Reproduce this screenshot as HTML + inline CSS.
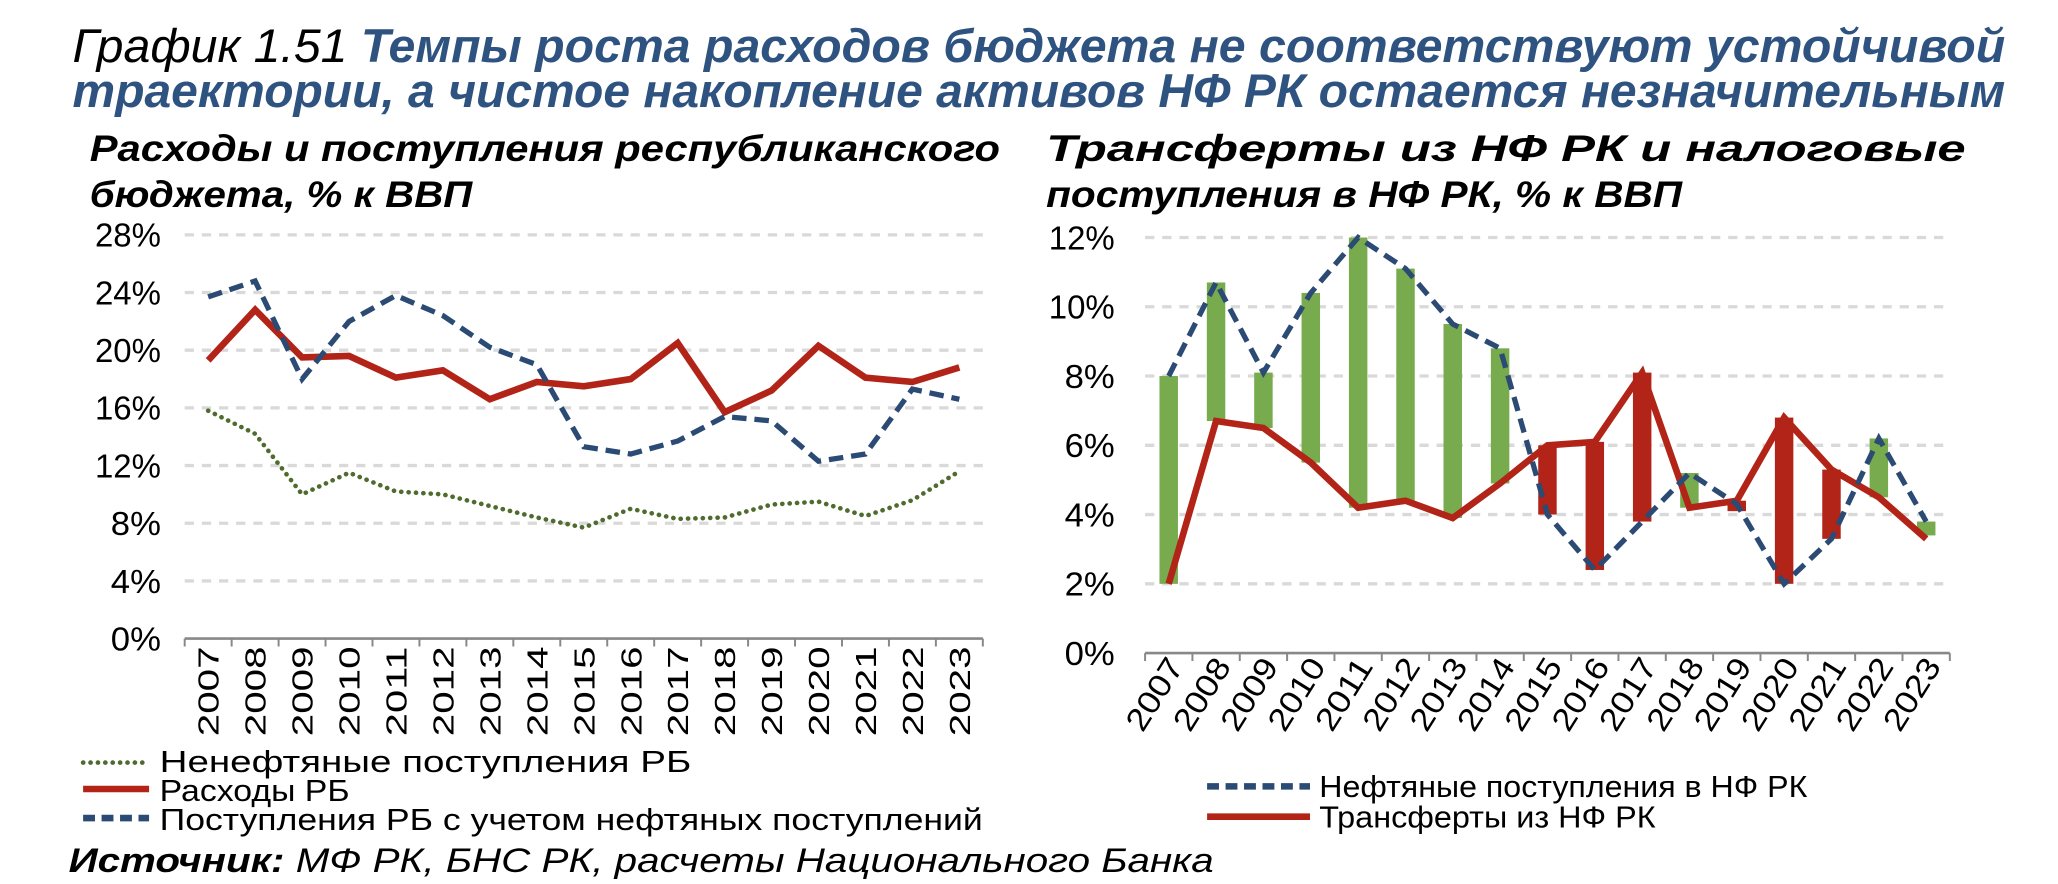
<!DOCTYPE html>
<html><head><meta charset="utf-8"><style>
html,body{margin:0;padding:0;background:#fff;}
svg{display:block;}
text{font-family:"Liberation Sans",sans-serif;}
</style></head><body>
<svg id="s" width="2058" height="884" viewBox="0 0 1560 670" preserveAspectRatio="none" xmlns="http://www.w3.org/2000/svg">
<rect width="1560" height="670" fill="#fff"/>
<text x="55" y="47" font-size="36" font-style="italic" textLength="1465" lengthAdjust="spacingAndGlyphs"><tspan fill="#000">График 1.51 </tspan><tspan fill="#2F5380" font-weight="bold">Темпы роста расходов бюджета не соответствуют устойчивой</tspan></text>
<text x="55" y="81" font-size="36" font-style="italic" font-weight="bold" fill="#2F5380" textLength="1465" lengthAdjust="spacingAndGlyphs">траектории, а чистое накопление активов НФ РК остается незначительным</text>
<text x="68" y="122" font-size="28" font-style="italic" font-weight="bold" textLength="690" lengthAdjust="spacingAndGlyphs">Расходы и поступления республиканского</text>
<text x="68" y="157" font-size="28" font-style="italic" font-weight="bold" textLength="290" lengthAdjust="spacingAndGlyphs">бюджета, % к ВВП</text>
<text x="793" y="122" font-size="28" font-style="italic" font-weight="bold" textLength="697" lengthAdjust="spacingAndGlyphs">Трансферты из НФ РК и налоговые</text>
<text x="793" y="157" font-size="28" font-style="italic" font-weight="bold" textLength="482" lengthAdjust="spacingAndGlyphs">поступления в НФ РК, % к ВВП</text>
<text x="52" y="661" font-size="26" font-style="italic" textLength="868" lengthAdjust="spacingAndGlyphs"><tspan font-weight="bold">Источник:</tspan> МФ РК, БНС РК, расчеты Национального Банка</text>
<g id="g"></g>
</svg>
<script>
var g=document.getElementById('g'),h='';
function L(x1,y1,x2,y2,st){h+='<line x1="'+x1+'" y1="'+y1+'" x2="'+x2+'" y2="'+y2+'" '+st+'/>';}
function P(pts,st){h+='<polyline fill="none" points="'+pts.map(function(p){return p[0].toFixed(1)+','+p[1].toFixed(1)}).join(' ')+'" '+st+'/>';}
function T(x,y,s,st){h+='<text x="'+x+'" y="'+y+'" '+st+'>'+s+'</text>';}
var grid='stroke="#D9D9D9" stroke-width="2.5" stroke-dasharray="7,6"';
// LEFT
var lx0=140,lx1=745,ly0=484,lk=306/28,lw=(lx1-lx0)/17;
for(var v=4;v<=28;v+=4)L(lx0,ly0-v*lk,lx1,ly0-v*lk,grid);
for(var v=0;v<=28;v+=4)T(122,ly0-v*lk+9,v+'%','font-size="25" text-anchor="end" textLength="'+(v<10?38:50)+'" lengthAdjust="spacingAndGlyphs"');
L(lx0,ly0,lx1,ly0,'stroke="#888" stroke-width="2"');
for(var i=0;i<=17;i++)L(lx0+i*lw,ly0,lx0+i*lw,ly0+6,'stroke="#888" stroke-width="1.5"');
for(var i=0;i<17;i++){var cx=lx0+lw*(i+.5)+8;h+='<text transform="translate('+cx+',490) rotate(-90)" font-size="22" text-anchor="end" textLength="68" lengthAdjust="spacingAndGlyphs">'+(2007+i)+'</text>';}
var red=[19.3,22.8,19.5,19.6,18.1,18.6,16.6,17.8,17.5,18.0,20.5,15.7,17.2,20.3,18.1,17.8,18.8];
var blu=[23.7,24.8,18.0,22.0,23.8,22.4,20.2,19.0,13.3,12.8,13.7,15.4,15.1,12.3,12.8,17.3,16.6];
var grn=[15.8,14.2,10.0,11.5,10.2,10.0,9.2,8.4,7.7,9.0,8.3,8.4,9.3,9.5,8.5,9.6,11.6];
function pts(a,x0,w,y0,k){return a.map(function(v,i){return [x0+w*(i+.5),y0-v*k]});}
P(pts(grn,lx0,lw,ly0,lk),'stroke="#4F6B2E" stroke-width="3.5" stroke-dasharray="0.1,5.5" stroke-linecap="round"');
P(pts(red,lx0,lw,ly0,lk),'stroke="#B22418" stroke-width="5"');
P(pts(blu,lx0,lw,ly0,lk),'stroke="#2B4A74" stroke-width="4" stroke-dasharray="11,6"');
L(63,578,113,578,'stroke="#4F6B2E" stroke-width="3.5" stroke-dasharray="0.1,5.5" stroke-linecap="round"');
L(63,598,113,598,'stroke="#B22418" stroke-width="5"');
L(63,620,113,620,'stroke="#2B4A74" stroke-width="5" stroke-dasharray="9,5"');
T(121,585,'Ненефтяные поступления РБ','font-size="23" textLength="403" lengthAdjust="spacingAndGlyphs"');
T(121,607,'Расходы РБ','font-size="23" textLength="144" lengthAdjust="spacingAndGlyphs"');
T(121,629,'Поступления РБ с учетом нефтяных поступлений','font-size="23" textLength="624" lengthAdjust="spacingAndGlyphs"');
// RIGHT
var rx0=868,rx1=1478,ry0=495,rk=315/12,rw=(rx1-rx0)/17;
for(var v=2;v<=12;v+=2)L(rx0,ry0-v*rk,rx1,ry0-v*rk,grid);
for(var v=0;v<=12;v+=2)T(845,ry0-v*rk+9,v+'%','font-size="25" text-anchor="end" textLength="'+(v<10?38:50)+'" lengthAdjust="spacingAndGlyphs"');
var oil=[8.0,10.7,8.1,10.4,12.0,11.1,9.5,8.8,4.0,2.4,3.8,5.2,4.3,2.0,3.3,6.2,3.8];
var tr=[2.0,6.7,6.5,5.5,4.2,4.4,3.9,4.9,6.0,6.1,8.1,4.2,4.4,6.8,5.3,4.5,3.3];
for(var i=0;i<17;i++){var a=oil[i],b=tr[i],cx=rx0+rw*(i+.5),hi=Math.max(a,b),lo=Math.min(a,b);if(i==16){hi=3.8;lo=3.4;}if(i==12){hi=4.4;lo=4.1;}
h+='<rect x="'+(cx-7).toFixed(1)+'" y="'+(ry0-hi*rk).toFixed(1)+'" width="14" height="'+((hi-lo)*rk).toFixed(1)+'" fill="'+(a>=b?'#77AB4E':'#B22418')+'"/>';}
P(pts(tr,rx0,rw,ry0,rk),'stroke="#B22418" stroke-width="5"');
P(pts(oil,rx0,rw,ry0,rk),'stroke="#2B4A74" stroke-width="4" stroke-dasharray="11,6"');
L(rx0,ry0,rx1,ry0,'stroke="#888" stroke-width="2"');
for(var i=0;i<=17;i++)L(rx0+i*rw,ry0,rx0+i*rw,ry0+6,'stroke="#888" stroke-width="1.5"');
for(var i=0;i<17;i++){var cx=rx0+rw*(i+.5)+12;h+='<text transform="translate('+cx+',505) rotate(-58)" font-size="24" text-anchor="end" textLength="60" lengthAdjust="spacingAndGlyphs">'+(2007+i)+'</text>';}
L(915,596,993,596,'stroke="#2B4A74" stroke-width="5" stroke-dasharray="9,5"');
L(915,619,993,619,'stroke="#B22418" stroke-width="5"');
T(1000,604,'Нефтяные поступления в НФ РК','font-size="23" textLength="370" lengthAdjust="spacingAndGlyphs"');
T(1000,627,'Трансферты из НФ РК','font-size="23" textLength="255" lengthAdjust="spacingAndGlyphs"');
g.innerHTML=h;
</script>
</body></html>
